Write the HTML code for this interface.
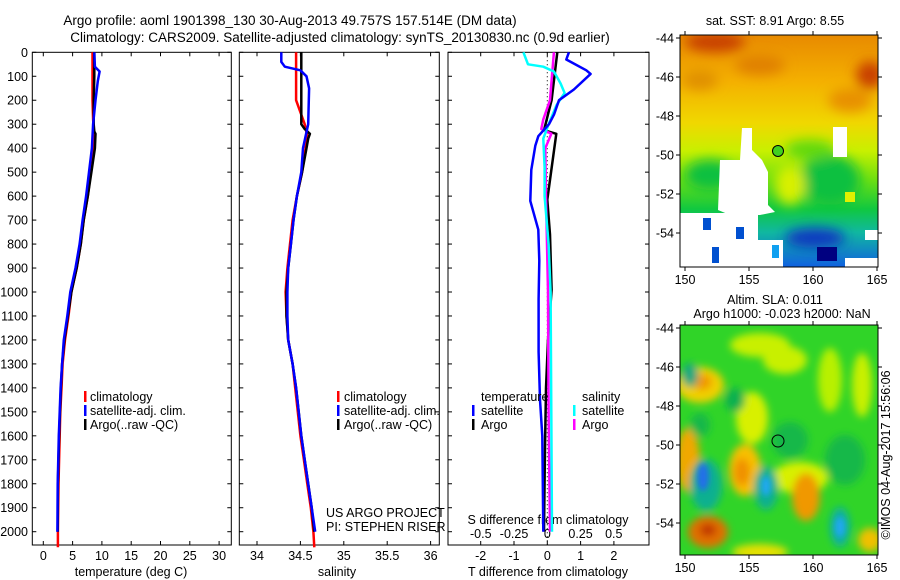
<!DOCTYPE html>
<html><head><meta charset="utf-8"><style>
body{margin:0;background:#fff;}
svg{display:block;font-family:"Liberation Sans",sans-serif;}
text{font-size:12.5px;fill:#000;}
</style></head><body>
<svg id="c" width="900" height="580" viewBox="0 0 900 580" xmlns="http://www.w3.org/2000/svg">
<defs>
<filter id="bl" x="-50%" y="-50%" width="200%" height="200%"><feGaussianBlur stdDeviation="6"/></filter>
<filter id="bl4" x="-50%" y="-50%" width="200%" height="200%"><feGaussianBlur stdDeviation="4"/></filter>
<filter id="bl2" x="-50%" y="-50%" width="200%" height="200%"><feGaussianBlur stdDeviation="3"/></filter>
<clipPath id="m1"><rect x="680" y="35" width="198" height="232"/></clipPath>
<clipPath id="m2"><rect x="680" y="325" width="198" height="230"/></clipPath>
<linearGradient id="sstg" x1="0" y1="0" x2="0" y2="1">
<stop offset="0" stop-color="#e88a00"/><stop offset="0.2" stop-color="#f4b000"/>
<stop offset="0.38" stop-color="#f0d800"/><stop offset="0.5" stop-color="#c8f000"/>
<stop offset="0.62" stop-color="#70e010"/><stop offset="0.75" stop-color="#10c840"/>
<stop offset="0.85" stop-color="#10b8a0"/><stop offset="1" stop-color="#1060e0"/>
</linearGradient>
</defs>
<g>
<text x="290" y="25" text-anchor="middle" style="font-size:13.5px">Argo profile: aoml 1901398_130 30-Aug-2013 49.757S 157.514E (DM data)</text>
<text x="340" y="42" text-anchor="middle" style="font-size:13.5px">Climatology: CARS2009. Satellite-adjusted climatology: synTS_20130830.nc (0.9d earlier)</text>
</g>
<g id="axes"></g>
<g id="series"></g>

<!-- SST map -->
<g>
<text x="775" y="25" text-anchor="middle">sat. SST: 8.91 Argo: 8.55</text>
<g clip-path="url(#m1)">
<rect x="680" y="35" width="198" height="232" fill="url(#sstg)"/>
<g filter="url(#bl)">
<ellipse cx="715" cy="42" rx="30" ry="10" fill="#c84000"/>
<ellipse cx="870" cy="75" rx="14" ry="14" fill="#c84000"/>
<ellipse cx="760" cy="65" rx="25" ry="10" fill="#e08000"/>
<ellipse cx="850" cy="100" rx="22" ry="12" fill="#e89000"/>
<ellipse cx="700" cy="80" rx="18" ry="10" fill="#e09000"/>
<ellipse cx="830" cy="180" rx="30" ry="25" fill="#10c040"/>
<ellipse cx="710" cy="175" rx="25" ry="15" fill="#10c040"/>
<ellipse cx="810" cy="150" rx="25" ry="10" fill="#60d810"/>
<ellipse cx="790" cy="185" rx="15" ry="20" fill="#d8f000"/>
<ellipse cx="815" cy="238" rx="30" ry="10" fill="#0838c0"/>
</g>
<g fill="#fff">
<path d="M720 160 L740 160 L742 128 L752 128 L752 150 L762 160 L768 172 L768 205 L775 212 L760 215 L730 215 L718 210 Z"/>
<rect x="680" y="213" width="78" height="54"/>
<rect x="758" y="240" width="25" height="27"/>
<rect x="833" y="127" width="14" height="30"/>
<rect x="845" y="258" width="33" height="9"/>
<rect x="865" y="230" width="13" height="10"/>
</g>
<g>
<rect x="703" y="218" width="8" height="12" fill="#0050d0"/>
<rect x="736" y="227" width="8" height="12" fill="#0050d0"/>
<rect x="712" y="247" width="7" height="16" fill="#0050d0"/>
<rect x="772" y="245" width="7" height="13" fill="#10a0f0"/>
<rect x="817" y="247" width="20" height="14" fill="#000080"/>
<rect x="845" y="192" width="10" height="10" fill="#e0f000"/>
</g>
</g>
<rect x="680" y="35" width="198" height="232" fill="none" stroke="#000"/>
<circle cx="778" cy="151" r="5.5" fill="#40d020" stroke="#000"/>
</g>

<!-- SLA map -->
<g>
<text x="775" y="304" text-anchor="middle">Altim. SLA: 0.011</text>
<text x="782" y="318" text-anchor="middle">Argo h1000: -0.023 h2000: NaN</text>
<g clip-path="url(#m2)">
<rect x="680" y="325" width="198" height="230" fill="#30d428"/>
<g filter="url(#bl4)">
<ellipse cx="760" cy="345" rx="30" ry="12" fill="#c8f000"/>
<ellipse cx="700" cy="385" rx="24" ry="18" fill="#f0d000"/>
<ellipse cx="702" cy="382" rx="10" ry="8" fill="#f09800"/>
<ellipse cx="752" cy="418" rx="16" ry="26" fill="#d8f000"/>
<ellipse cx="785" cy="360" rx="22" ry="14" fill="#c8f000"/>
<ellipse cx="830" cy="380" rx="12" ry="32" fill="#b8f000"/>
<ellipse cx="862" cy="385" rx="10" ry="32" fill="#c8f000"/>
<ellipse cx="745" cy="470" rx="16" ry="26" fill="#f8c000"/>
<ellipse cx="742" cy="472" rx="8" ry="14" fill="#f09000"/>
<ellipse cx="688" cy="460" rx="12" ry="32" fill="#f0a800"/>
<ellipse cx="800" cy="478" rx="28" ry="16" fill="#d8f000"/>
<ellipse cx="806" cy="497" rx="14" ry="24" fill="#f09800"/>
<ellipse cx="708" cy="532" rx="20" ry="16" fill="#e07000"/>
<ellipse cx="708" cy="530" rx="8" ry="6" fill="#c03000"/>
<ellipse cx="706" cy="485" rx="16" ry="26" fill="#10b090"/>
<ellipse cx="766" cy="488" rx="12" ry="22" fill="#10b090"/>
<ellipse cx="840" cy="527" rx="10" ry="20" fill="#10b0a0"/>
<ellipse cx="690" cy="375" rx="8" ry="12" fill="#10a880"/>
<ellipse cx="760" cy="552" rx="28" ry="8" fill="#e8e000"/>
<ellipse cx="870" cy="540" rx="12" ry="12" fill="#f0c000"/>
<ellipse cx="735" cy="400" rx="10" ry="12" fill="#10b050"/>
<ellipse cx="790" cy="440" rx="18" ry="18" fill="#18b848"/>
<ellipse cx="845" cy="460" rx="20" ry="25" fill="#18b848"/>
<ellipse cx="700" cy="425" rx="10" ry="12" fill="#18b848"/>
</g>
<g filter="url(#bl2)">
<ellipse cx="703" cy="477" rx="6" ry="14" fill="#2070e8"/>
<ellipse cx="766" cy="486" rx="5" ry="10" fill="#20a8f0"/>
<ellipse cx="840" cy="527" rx="5" ry="10" fill="#20a8f0"/>
</g>
</g>
<rect x="680" y="325" width="198" height="230" fill="none" stroke="#000"/>
<circle cx="778" cy="441" r="6" fill="none" stroke="#000"/>
<text transform="translate(890,455) rotate(-90)" text-anchor="middle">©IMOS 04-Aug-2017 15:56:06</text>
</g>
<g id="mapaxes"></g>

<g>
<rect x="84" y="391" width="2.5" height="11" fill="#f00"/><text x="90" y="401">climatology</text>
<rect x="84" y="405" width="2.5" height="11" fill="#00f"/><text x="90" y="415">satellite-adj. clim.</text>
<rect x="84" y="419" width="2.5" height="11" fill="#000"/><text x="90" y="429">Argo(..raw -QC)</text>
</g>
<g>
<rect x="337" y="391" width="2.5" height="11" fill="#f00"/><text x="344" y="401">climatology</text>
<rect x="337" y="405" width="2.5" height="11" fill="#00f"/><text x="344" y="415">satellite-adj. clim.</text>
<rect x="337" y="419" width="2.5" height="11" fill="#000"/><text x="344" y="429">Argo(..raw -QC)</text>
<text x="326" y="517">US ARGO PROJECT</text>
<text x="326" y="531">PI: STEPHEN RISER</text>
</g>
<g>
<text x="481" y="401">temperature</text><text x="582" y="401">salinity</text>
<rect x="472" y="405" width="2.5" height="11" fill="#00f"/><text x="481" y="415">satellite</text>
<rect x="472" y="419" width="2.5" height="11" fill="#000"/><text x="481" y="429">Argo</text>
<rect x="573" y="405" width="2.5" height="11" fill="#0ff"/><text x="582" y="415">satellite</text>
<rect x="573" y="419" width="2.5" height="11" fill="#f0f"/><text x="582" y="429">Argo</text>
</g>

<script>
// ---- data ----
const depthTicks=[0,100,200,300,400,500,600,700,800,900,1000,1100,1200,1300,1400,1500,1600,1700,1800,1900,2000];
const tTicks=[0,5,10,15,20,25,30];
const sTicks=[34,34.5,35,35.5,36];
const dTTicks=[-2,-1,0,1,2];
const dSTicks=[-0.5,-0.25,0,0.25,0.5];
const tClimDepth=[0,100,200,280,350,400,500,600,700,800,900,1000,1100,1200,1300,1400,1500,1600,1700,1800,1900,2000,2065];
const tClimVal=[8.4,8.4,8.4,8.5,8.7,8.6,8.1,7.6,6.9,6.4,5.7,4.8,4.3,3.7,3.3,3.1,2.9,2.8,2.7,2.6,2.55,2.5,2.5];
const tSatDepth=[0,60,80,120,200,300,400,500,600,700,800,900,1000,1100,1200,1300,1400,1500,1600,1800,2000];
const tSatVal=[8.7,8.8,9.6,9.3,8.9,8.5,8.3,7.8,7.3,6.7,6.2,5.5,4.6,4.1,3.5,3.2,2.95,2.8,2.65,2.45,2.4];
const tArgoDepth=[0,100,200,300,330,340,400,500,600,700,800,900,1000,1100,1200,1300,1400,1500,1600,1800,2000];
const tArgoVal=[8.7,8.7,8.6,8.6,8.7,8.9,8.8,8.2,7.6,6.9,6.4,5.7,4.8,4.2,3.6,3.2,3.0,2.85,2.7,2.5,2.45];
const sClimDepth=[0,200,250,300,350,400,500,600,700,800,900,1000,1100,1200,1300,1400,1500,1600,1700,1800,1900,2000,2065];
const sClimVal=[34.45,34.45,34.5,34.55,34.58,34.56,34.52,34.46,34.41,34.38,34.35,34.33,34.34,34.36,34.41,34.44,34.47,34.5,34.54,34.58,34.62,34.65,34.66];
const sSatDepth=[0,40,60,75,100,150,300,400,500,600,700,800,900,1000,1100,1200,1300,1400,1500,1600,1700,1800,1900,2000];
const sSatVal=[34.28,34.28,34.32,34.5,34.57,34.6,34.59,34.53,34.51,34.46,34.42,34.39,34.36,34.35,34.35,34.36,34.41,34.45,34.48,34.51,34.55,34.59,34.63,34.67];
const sArgoDepth=[0,100,200,300,320,340,360,400,500,600,700,800,900,1000,1100,1200,1300,1400,1500,1600,1700,1800,1900,2000];
const sArgoVal=[34.51,34.51,34.51,34.51,34.55,34.61,34.59,34.57,34.52,34.46,34.42,34.39,34.36,34.34,34.34,34.36,34.41,34.45,34.48,34.51,34.55,34.59,34.63,34.66];
const dTSatDepth=[0,30,75,90,155,200,260,300,350,390,490,620,740,870,1030,1250,1450,1600,2000];
const dTSatVal=[0.65,0.57,1.17,1.3,0.8,0.35,0.2,0.05,-0.27,-0.36,-0.48,-0.51,-0.27,-0.24,-0.26,-0.26,-0.22,-0.15,-0.12];
const dTArgoDepth=[0,200,325,340,410,615,760,990,1200,1400,1650,2000];
const dTArgoVal=[0.3,0.13,-0.1,0.27,0.2,0.0,0.08,0.13,0.02,-0.04,-0.07,-0.1];
const dSArgoDepth=[0,200,280,320,340,400,600,1000,1500,2000];
const dSArgoVal=[0.05,0.02,-0.03,-0.045,0.03,-0.015,-0.01,0.005,0.01,0.02];
const dSSatDepth=[0,50,60,80,130,170,220,300,360,480,600,800,1000,1500,2000];
const dSSatVal=[-0.18,-0.145,-0.03,0.05,0.1,0.13,0.07,0.01,-0.03,-0.02,-0.02,0.01,0.025,0.03,0.035];
const lonTicks=[150,155,160,165];
const latTicks=[-44,-46,-48,-50,-52,-54];

// ---- axis functions ----
const yD=d=>52.3+d*0.2397;
const xT=t=>43.3+t*5.86;
const xS=s=>257+(s-34)*86.8;
const xDT=v=>547.3+v*33.3;
const xDS=v=>547.3+v*133;
const NS='http://www.w3.org/2000/svg';
const axes=document.getElementById('axes'), ser=document.getElementById('series'), mapax=document.getElementById('mapaxes');
function mk(tag,attrs,parent){const e=document.createElementNS(NS,tag);for(const k in attrs)e.setAttribute(k,attrs[k]);parent.appendChild(e);return e;}
function txt(s,x,y,anchor,parent){const e=mk('text',{x:x,y:y,'text-anchor':anchor},parent);e.textContent=s;return e;}

const panels=[{x0:32.3,x1:231.3,name:'temperature-panel'},{x0:239.3,x1:439.3,name:'salinity-panel'},{x0:448,x1:649,name:'difference-panel'}];
panels.forEach(p=>{
  const r=mk('rect',{x:p.x0,y:52.3,width:p.x1-p.x0,height:545-52.3,fill:'none',stroke:'#000','stroke-width':1},axes);
  
  
  depthTicks.forEach(d=>{
    mk('line',{x1:p.x0,x2:p.x0+4,y1:yD(d),y2:yD(d),stroke:'#000'},axes);
    mk('line',{x1:p.x1,x2:p.x1-4,y1:yD(d),y2:yD(d),stroke:'#000'},axes);
  });
});
depthTicks.forEach(d=>{
  const t=txt(String(d),28,yD(d)+4.5,'end',axes);
  
  
});
function xTicks(vals,fx,labY,top){vals.forEach(v=>{const x=fx(v);
  mk('line',{x1:x,x2:x,y1:545,y2:541,stroke:'#000'},axes);
  if(top)mk('line',{x1:x,x2:x,y1:52.3,y2:56.3,stroke:'#000'},axes);
  const t=txt(String(v),x,labY,'middle',axes);
  
  
});}
xTicks(tTicks,xT,560,true);
xTicks(sTicks,xS,560,true);
xTicks(dTTicks,xDT,560,true);
dSTicks.forEach(v=>{const x=xDS(v);
  const t=txt(String(v),x,538,'middle',axes);
  
  
});
let at=txt('temperature (deg C)',131,576,'middle',axes);


at=txt('salinity',337,576,'middle',axes);


at=txt('T difference from climatology',548,576,'middle',axes);


at=txt('S difference from climatology',548,524,'middle',axes);


const zl=mk('line',{x1:xDT(0),x2:xDT(0),y1:52.3,y2:545,stroke:'#000','stroke-dasharray':'1,3'},axes);



function line(depths,vals,fx,color,w,name){
  const pts=depths.map((d,i)=>fx(vals[i]).toFixed(1)+','+yD(d).toFixed(1)).join(' ');
  const e=mk('polyline',{points:pts,fill:'none',stroke:color,'stroke-width':w,'stroke-linejoin':'round'},ser);
  
  
}
line(tClimDepth,tClimVal,xT,'#f00',2.5,'temp-climatology-line');
line(tArgoDepth,tArgoVal,xT,'#000',2.5,'temp-argo-line');
line(tSatDepth,tSatVal,xT,'#00f',2.5,'temp-satellite-line');
line(sClimDepth,sClimVal,xS,'#f00',2.5,'sal-climatology-line');
line(sArgoDepth,sArgoVal,xS,'#000',2.5,'sal-argo-line');
line(sSatDepth,sSatVal,xS,'#00f',2.5,'sal-satellite-line');
line(dTArgoDepth,dTArgoVal,xDT,'#000',2.5,'t-diff-argo-line');
line(dSArgoDepth,dSArgoVal,xDS,'#f0f',2.5,'s-diff-argo-line');
line(dSSatDepth,dSSatVal,xDS,'#0ff',2.5,'s-diff-satellite-line');
line(dTSatDepth,dTSatVal,xDT,'#00f',2.5,'t-diff-satellite-line');

const lonX=l=>685+(l-150)*12.8;
[{y0:35,y1:267,lat0:38},{y0:325,y1:555,lat0:328}].forEach(m=>{
  lonTicks.forEach(l=>{const x=lonX(l);
    mk('line',{x1:x,x2:x,y1:m.y1,y2:m.y1+4,stroke:'#000'},mapax);
    mk('line',{x1:x,x2:x,y1:m.y0,y2:m.y0-4,stroke:'#000'},mapax);
    const t=txt(String(l),x,m.y1+17,'middle',mapax);
    
    
  });
  latTicks.forEach(la=>{const y=m.lat0+(-44-la)*19.5;
    mk('line',{x1:680,x2:676,y1:y,y2:y,stroke:'#000'},mapax);
    mk('line',{x1:878,x2:882,y1:y,y2:y,stroke:'#000'},mapax);
    const t=txt(String(la),674,y+4.5,'end',mapax);
    
    
  });
});
</script>
</svg>
</body></html>
